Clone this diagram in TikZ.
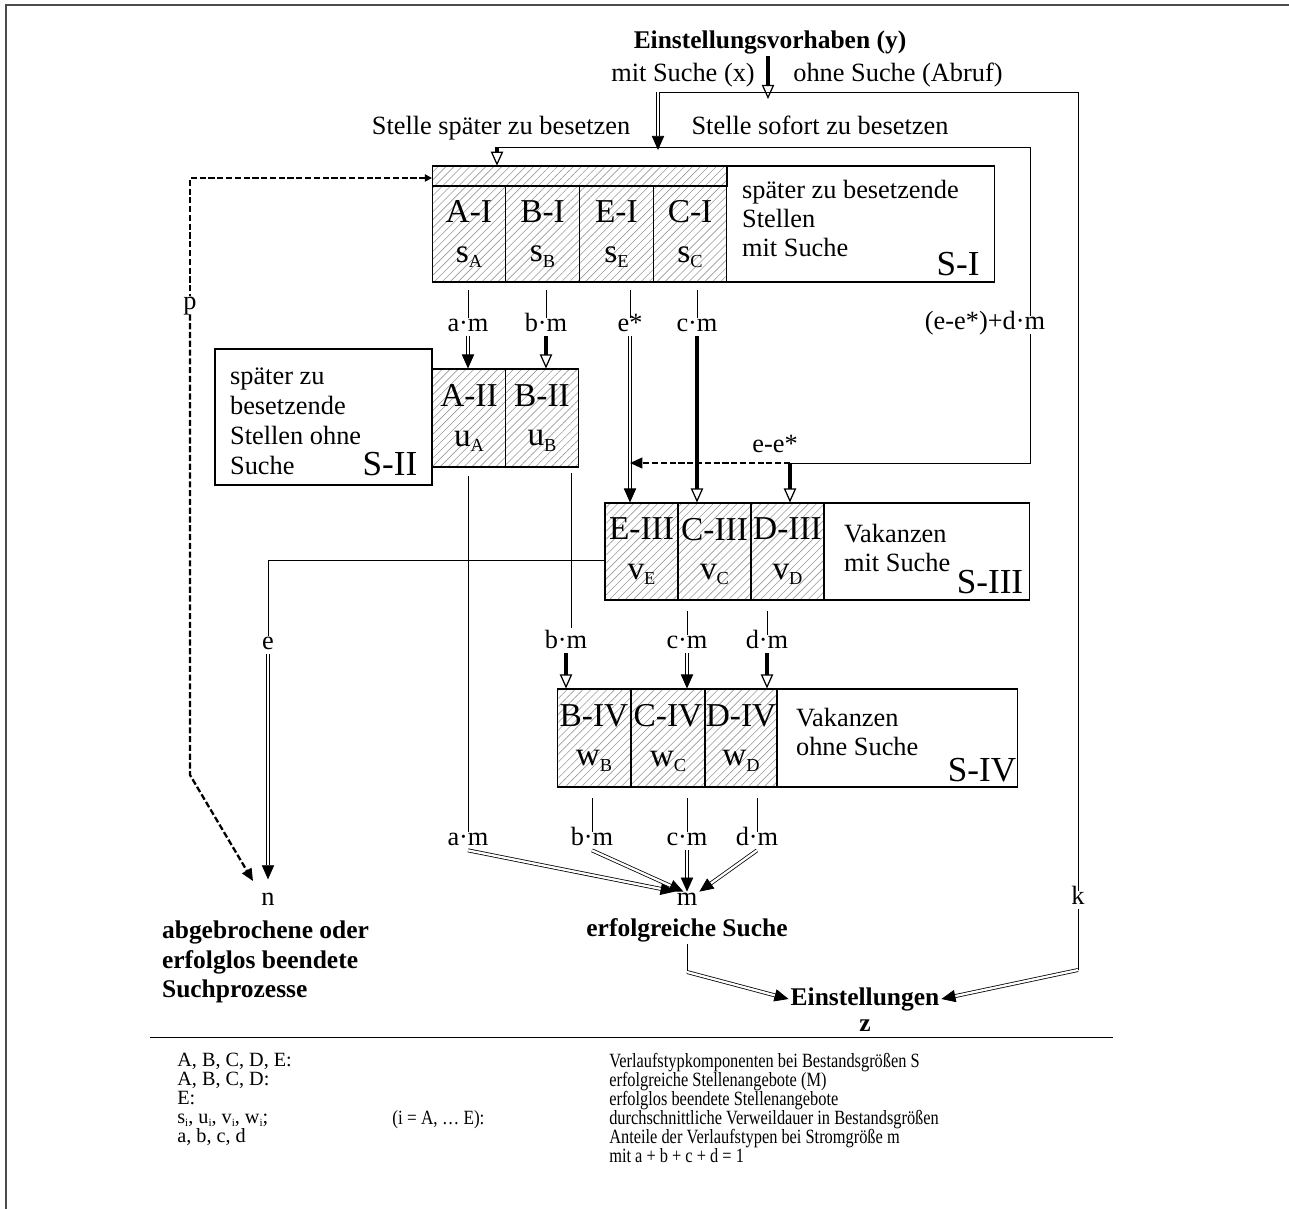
\documentclass[tikz,border=0pt]{standalone}
\usepackage{fontspec}
\setmainfont{Liberation Serif}
\usetikzlibrary{arrows.meta,patterns.meta}

\newcommand{\lowidx}[1]{\raisebox{-0.35ex}{\scalebox{0.55}{#1}}}

\begin{document}
\begin{tikzpicture}[x=0.02cm,y=-0.02cm,
  txt/.style={font=\fontsize{15}{16.5}\selectfont,inner sep=1pt,text height=1.45ex,text depth=0.35ex},
  para/.style={font=\fontsize{15}{16.5}\selectfont,inner sep=1pt,align=left,anchor=west},
  ttl/.style={font=\fontsize{14.5}{17}\selectfont\bfseries,inner sep=1pt},
  big/.style={font=\fontsize{20}{20}\selectfont,inner sep=0pt},
  leg/.style={font=\fontsize{11.5}{10.8}\selectfont,execute at begin node={\lineskiplimit=-20pt\relax},
    inner sep=0pt,align=left,anchor=north west},
  box/.style={draw,line width=0.6pt,inner sep=0pt},
  hatch/.style={draw,line width=0.6pt,inner sep=0pt,
    pattern={Lines[angle=45,distance=3.2pt,line width=0.35pt]},pattern color=gray!80},
  cell/.style={hatch,minimum width=1.47cm,align=center,
    font=\fontsize{19}{22.5}\selectfont,execute at begin node={\rule{0pt}{20pt}}},
  ln/.style={line width=0.5pt},
  dbl/.style={double,double distance=1.3pt,line width=0.45pt,-{Triangle[length=8pt,width=7pt]}},
  thk/.style={line width=1.8pt,-{Triangle[open,fill=white,length=8pt,width=7pt,line width=0.7pt]}},
  dshline/.style={line width=1.3pt,dash pattern=on 3.5pt off 1.5pt},
  dsh/.style={dshline,-{Triangle[length=7pt,width=6pt]}}]
\useasboundingbox (0,0) rectangle (1289,1209);
\draw[line width=1.2pt,black!70] (6,1209) -- (6,5) -- (1289,5);

% Zugang
\node[ttl] (plan) at (770,42) {Einstellungsvorhaben (y)};
\node[txt] (mit) at (683,77) {mit Suche (x)};
\node[txt] (ohne) at (898,77) {ohne Suche (Abruf)};
\coordinate (f1) at (768,92);
\coordinate (f1tip) at (768,99);
\coordinate (oh) at (1078,92);
\coordinate (f2) at (658,147);
\coordinate (f2tip) at (658,150);
\draw[thk] (plan.south -| f1) -- (f1tip);
\draw[ln] (f1) -- (f1 -| f2);
\draw[dbl] (f1 -| f2) -- (f2tip);
\node[txt] (spaet) at (501,130) {Stelle später zu besetzen};
\node[txt] (sofort) at (820,130) {Stelle sofort zu besetzen};

% S-I
\node[box,minimum width=11.26cm,minimum height=2.32cm] (SI) at (713.5,224) {};
\node[hatch,minimum width=5.9cm,minimum height=0.4cm] (SItop) at (579.5,176) {};
\node[cell,minimum height=1.92cm] (AI) at (468.9,234) {A-I\\s\lowidx{A}};
\node[cell,minimum height=1.92cm] (BI) at (542.6,234) {B-I\\s\lowidx{B}};
\node[cell,minimum height=1.92cm] (EI) at (616.4,234) {E-I\\s\lowidx{E}};
\node[cell,minimum height=1.92cm] (CI) at (690.1,234) {C-I\\s\lowidx{C}};
\node[para] (SItxt) at (740,218) {später zu besetzende\\Stellen\\mit Suche};
\node[big] (SIlab) at (958,264) {S-I};
\coordinate (sp) at (497,147);
\draw[ln] (f2) -- (sp);
\draw[thk] (sp) -- (sp |- SItop.north);

% S-II
\node[box,minimum width=4.34cm,minimum height=2.72cm] (SII) at (323.5,417) {};
\node[para,font=\fontsize{15}{17}\selectfont] (SIItxt) at (228,421.5) {später zu\\besetzende\\Stellen ohne\\Suche};
\node[big] (SIIlab) at (390,464) {S-II};
\node[cell,minimum height=1.96cm] (AII) at (469,418) {A-II\\u\lowidx{A}};
\node[cell,minimum height=1.96cm] (BII) at (542,418) {B-II\\u\lowidx{B}};

% S-III
\node[box,minimum width=8.5cm,minimum height=1.94cm] (SIII) at (817.5,551.5) {};
\node[cell,minimum width=1.46cm,minimum height=1.94cm] (EIII) at (641.5,551.5) {E-III\\v\lowidx{E}};
\node[cell,minimum width=1.46cm,minimum height=1.94cm] (CIII) at (714.5,551.5) {C-III\\v\lowidx{C}};
\node[cell,minimum width=1.46cm,minimum height=1.94cm] (DIII) at (787.5,551.5) {D-III\\v\lowidx{D}};
\node[para] (SIIItxt) at (842,547.5) {Vakanzen\\mit Suche};
\node[big] (SIIIlab) at (990,582) {S-III};

% S-IV
\node[box,minimum width=9.22cm,minimum height=1.96cm] (SIV) at (787.5,738) {};
\node[cell,minimum height=1.96cm] (BIV) at (594,738) {B-IV\\w\lowidx{B}};
\node[cell,minimum height=1.96cm] (CIV) at (668,738) {C-IV\\w\lowidx{C}};
\node[cell,minimum width=1.44cm,minimum height=1.96cm] (DIV) at (741,738) {D-IV\\w\lowidx{D}};
\node[para] (SIVtxt) at (794,732) {Vakanzen\\ohne Suche};
\node[big] (SIVlab) at (982,770) {S-IV};

% Stroeme aus S-I
\node[txt] (am1) at (468,327) {a·m};
\node[txt] (bm1) at (546,327) {b·m};
\node[txt] (es) at (630,327) {e*};
\node[txt] (cm1) at (697,327) {c·m};
\draw[ln,shorten <=4.5pt] (am1.north |- AI.south) -- (am1.north);
\draw[ln,shorten <=4.5pt] (bm1.north |- BI.south) -- (bm1.north);
\draw[ln,shorten <=4.5pt] (es.north |- EI.south) -- (es.north);
\draw[ln,shorten <=4.5pt] (cm1.north |- CI.south) -- (cm1.north);
\draw[dbl] (am1.south) -- (am1.south |- AII.north);
\draw[thk] (bm1.south) -- (bm1.south |- BII.north);
\draw[dbl] (es.south) -- (es.south |- EIII.north);
\draw[thk] (cm1.south) -- (cm1.south |- CIII.north);

% sofort zu besetzen
\coordinate (so) at (1030,147);
\node[txt] (edm) at (985,325) {(e-e*)+d·m};
\coordinate (dd) at (1030,463);
\coordinate (dx) at (790,463);
\coordinate (ex) at (630,463);
\node[txt] (ee) at (775,448) {e-e*};
\draw[ln] (f2) -- (so) -- (so |- edm.north);
\draw[ln] (so |- edm.south) -- (dd) -- (dx);
\draw[thk] (dx) -- (dx |- DIII.north);
\draw[dsh] (dx) -- (ex);

% Abbruch p
\coordinate (p0) at (432,178);
\coordinate (p1) at (190,178);
\coordinate (p2) at (190,775);
\node[txt] (p) at (190,305) {p};
\node[txt] (n) at (268,901) {n};
\draw[dshline,{Triangle[length=4pt,width=4pt]}-] (p0) -- (p1) -- (p.north);
\draw[dsh,shorten >=7pt] (p.south) -- (p2) -- (n.north west);

% e
\coordinate (e0) at (605,560);
\node[txt] (e) at (268,645) {e};
\draw[ln] (e0) -| (e.north);
\draw[dbl,shorten >=7pt] (e.south) -- (n.north);

% Stroeme aus S-II und S-III
\coordinate (b2a) at (571,473);
\coordinate (b2b) at (571,628);
\node[txt] (bm2) at (566,644) {b·m};
\node[txt] (cm2) at (687,644) {c·m};
\node[txt] (dm2) at (767,644) {d·m};
\node[txt] (am2) at (468,841) {a·m};
\draw[ln] (b2a) -- (b2b);
\draw[ln,shorten <=5pt] (am2.north |- AII.south) -- (am2.north);
\draw[ln,shorten <=6pt] (cm2.north |- SIII.south) -- (cm2.north);
\draw[ln,shorten <=6pt] (dm2.north |- SIII.south) -- (dm2.north);
\draw[thk] (bm2.south) -- (bm2.south |- BIV.north);
\draw[dbl] (cm2.south) -- (cm2.south |- CIV.north);
\draw[thk] (dm2.south) -- (dm2.south |- DIV.north);

% Stroeme aus S-IV
\node[txt] (bm3) at (592,841) {b·m};
\node[txt] (cm3) at (687,841) {c·m};
\node[txt] (dm3) at (757,841) {d·m};
\draw[ln,shorten <=6pt] (bm3.north |- SIV.south) -- (bm3.north);
\draw[ln,shorten <=6pt] (cm3.north |- SIV.south) -- (cm3.north);
\draw[ln,shorten <=6pt] (dm3.north |- SIV.south) -- (dm3.north);

% Abgaenge
\node[txt] (m) at (687,901) {m};
\node[txt] (k) at (1078,900) {k};
\draw[dbl] (am2.south) -- (m.north west);
\draw[dbl] (bm3.south) -- ([xshift=-2pt]m.north);
\draw[dbl] (cm3.south) -- (m.north);
\draw[dbl] (dm3.south) -- (m.north east);
\node[ttl] (erf) at (687,930) {erfolgreiche Suche};
\node[ttl,anchor=west,align=left] (abg) at (160,962) {abgebrochene oder\\erfolglos beendete\\Suchprozesse};
\node[ttl] (einst) at (865,999) {Einstellungen};
\node[ttl] (zz) at (865,1026) {z};
\coordinate (mk) at (687,972);
\coordinate (kk) at (1078,970);
\draw[ln] (erf.south) -- (mk);
\draw[dbl] (mk) -- (einst.west);
\draw[ln] (f1) -- (oh) -- (k.north);
\draw[ln] (k.south) -- (kk);
\draw[dbl] (kk) -- (einst.east);

% Legende
\draw[ln] (150,1037) -- (1113,1037);
\node[leg] (leg1) at (177,1053) {A, B, C, D, E:\\A, B, C, D:\\E:\\s\lowidx{i}, u\lowidx{i}, v\lowidx{i}, w\lowidx{i};\\a, b, c, d};
\node[leg,xscale=0.85] (leg2) at (392,1110) {(i = A, … E):};
\node[leg,xscale=0.81] (leg3) at (609,1053) {Verlaufstypkomponenten bei Bestandsgrößen S\\erfolgreiche Stellenangebote (M)\\erfolglos beendete Stellenangebote\\durchschnittliche Verweildauer in Bestandsgrößen\\Anteile der Verlaufstypen bei Stromgröße m\\mit a + b + c + d = 1};
\end{tikzpicture}
\end{document}
